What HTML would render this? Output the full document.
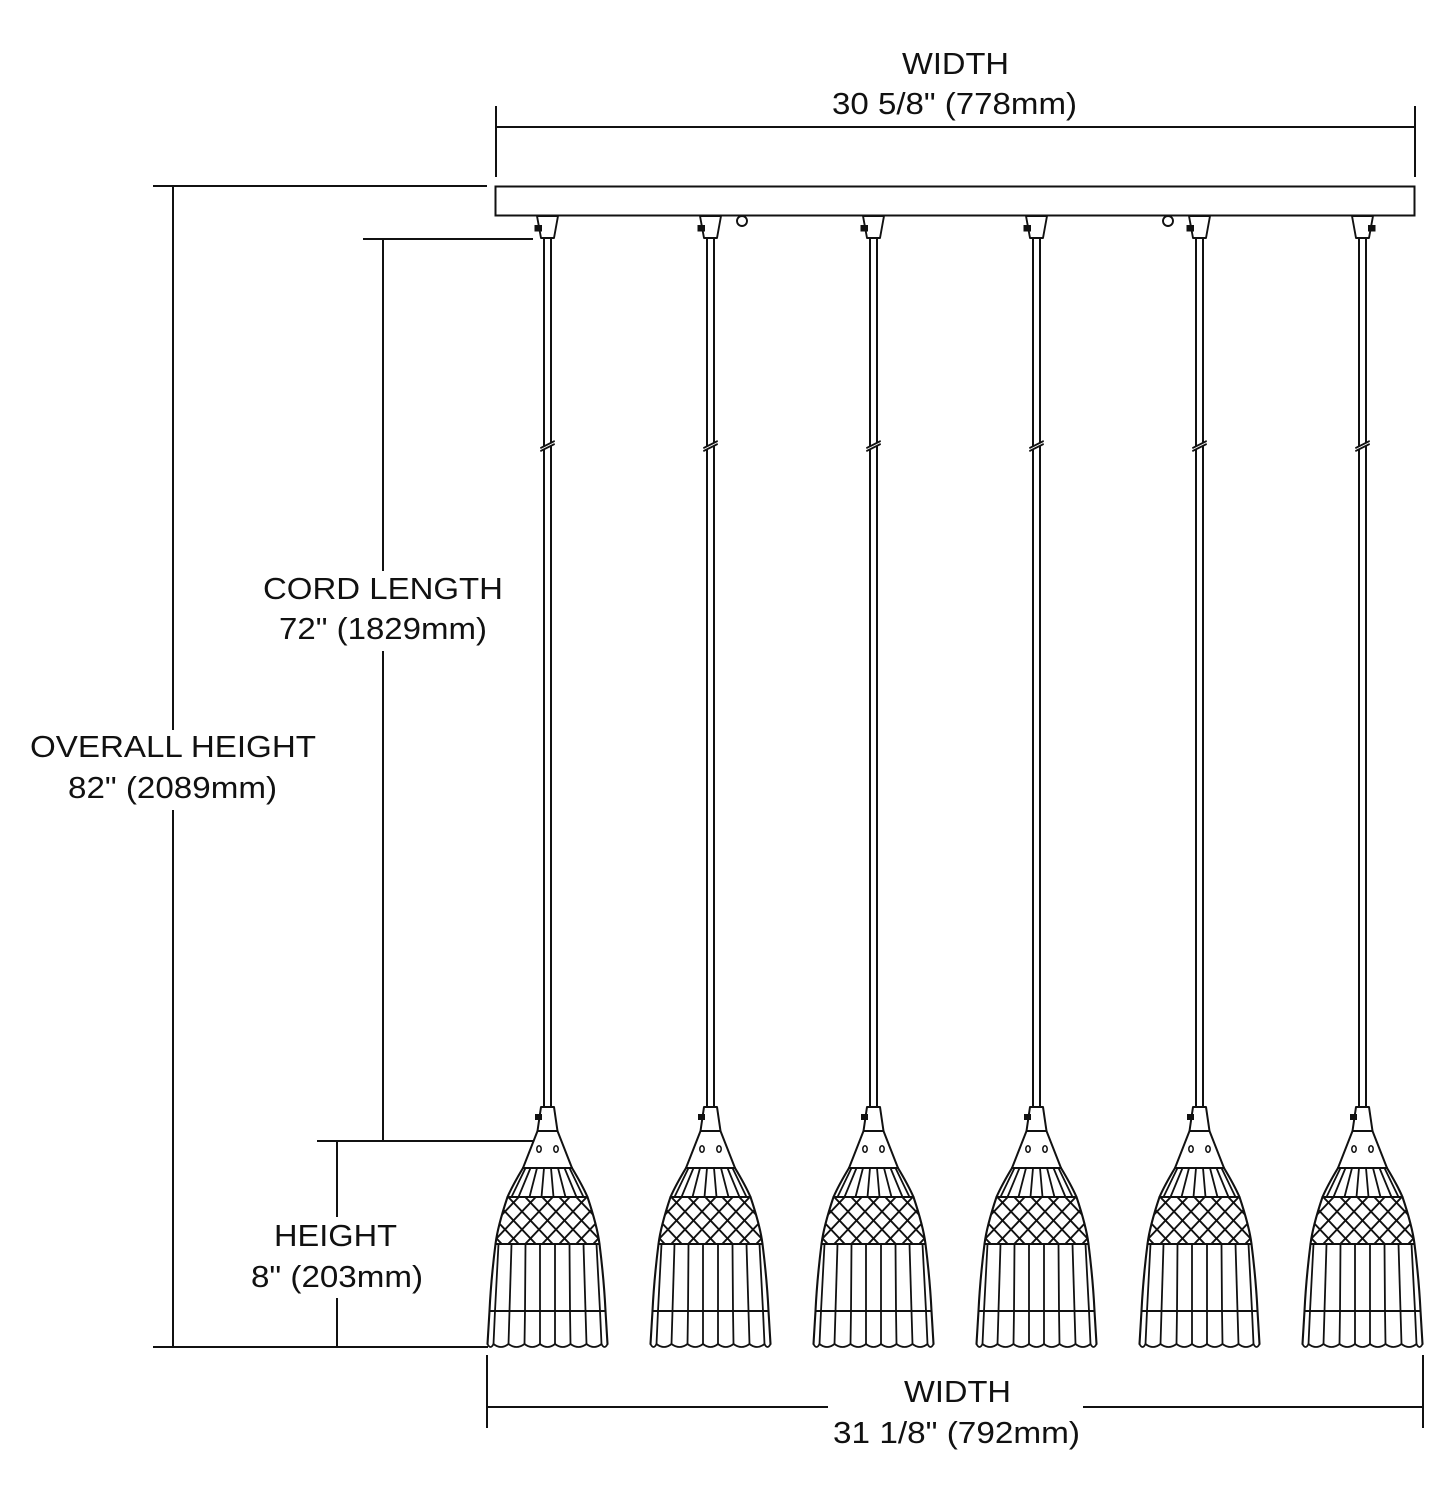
<!DOCTYPE html>
<html>
<head>
<meta charset="utf-8">
<style>
  html, body { margin: 0; padding: 0; background: #ffffff; }
  svg { display: block; }
  text { font-family: "Liberation Sans", Arial, sans-serif; font-size: 31px; fill: #111; }
</style>
</head>
<body>
<svg width="1455" height="1500" viewBox="0 0 1455 1500" xmlns="http://www.w3.org/2000/svg">
  <defs>
    <clipPath id="hatchClip">
      <path d="M -40,1197 L 40,1197 C 45,1212 50,1228 52,1244 L -52,1244 C -50,1228 -45,1212 -40,1197 Z"/>
    </clipPath>

    <g id="pend" fill="none" stroke="#111" stroke-linecap="round" stroke-linejoin="round">
      <line x1="-3.5" y1="238" x2="-3.5" y2="1107" stroke-width="2"/>
      <line x1="3.5" y1="238" x2="3.5" y2="1107" stroke-width="2"/>
      <polygon points="-6,447.5 6,441.5 6,444.5 -6,450.5" fill="#fff" stroke="none"/>
      <line x1="-6.5" y1="447.8" x2="6.5" y2="441.3" stroke-width="1.9"/>
      <line x1="-6.5" y1="450.8" x2="6.5" y2="444.3" stroke-width="1.9"/>

      <path d="M -6.5,1107 L 6.5,1107 L 10,1131 L -10,1131 Z" stroke-width="2" fill="#fff"/>
      <rect x="-12.5" y="1114" width="7" height="6" fill="#111" stroke="none"/>
      <line x1="-10" y1="1131" x2="-24.5" y2="1168" stroke-width="2"/>
      <line x1="10" y1="1131" x2="24.5" y2="1168" stroke-width="2"/>
      <ellipse cx="-8.5" cy="1149" rx="2.2" ry="3.2" stroke-width="1.5"/>
      <ellipse cx="8.5" cy="1149" rx="2.2" ry="3.2" stroke-width="1.5"/>

      <path d="M 24.5,1168 C 30.5,1178 36.5,1189 40,1197 C 45,1212 50,1228 52,1244 C 54.5,1264 57,1290 58,1311 L 60,1344" stroke-width="2.1"/>
      <path d="M -24.5,1168 C -30.5,1178 -36.5,1189 -40,1197 C -45,1212 -50,1228 -52,1244 C -54.5,1264 -57,1290 -58,1311 L -60,1344" stroke-width="2.1"/>

      <line x1="-24.5" y1="1168" x2="24.5" y2="1168" stroke-width="2"/>
      <line x1="-40" y1="1197" x2="40" y2="1197" stroke-width="2"/>
      <line x1="-52" y1="1244" x2="52" y2="1244" stroke-width="2"/>
      <line x1="-58" y1="1311" x2="58" y2="1311" stroke-width="2"/>

      <g stroke-width="1.8">
        <line x1="-3.5" y1="1168" x2="-6" y2="1197"/>
        <line x1="3.5" y1="1168" x2="6" y2="1197"/>
        <line x1="-10.5" y1="1168" x2="-18" y2="1197"/>
        <line x1="10.5" y1="1168" x2="18" y2="1197"/>
        <line x1="-17" y1="1168" x2="-29" y2="1197"/>
        <line x1="17" y1="1168" x2="29" y2="1197"/>
        <line x1="-22" y1="1168" x2="-36" y2="1197"/>
        <line x1="22" y1="1168" x2="36" y2="1197"/>
      </g>

      <g clip-path="url(#hatchClip)" stroke-width="1.9">
        <line x1="-124.3" y1="1197" x2="-79.7" y2="1244"/>
        <line x1="-107.3" y1="1197" x2="-62.7" y2="1244"/>
        <line x1="-90.3" y1="1197" x2="-45.7" y2="1244"/>
        <line x1="-73.3" y1="1197" x2="-28.7" y2="1244"/>
        <line x1="-56.3" y1="1197" x2="-11.7" y2="1244"/>
        <line x1="-39.3" y1="1197" x2="5.3" y2="1244"/>
        <line x1="-22.3" y1="1197" x2="22.3" y2="1244"/>
        <line x1="-5.3" y1="1197" x2="39.3" y2="1244"/>
        <line x1="11.7" y1="1197" x2="56.3" y2="1244"/>
        <line x1="28.7" y1="1197" x2="73.3" y2="1244"/>
        <line x1="45.7" y1="1197" x2="90.3" y2="1244"/>
        <line x1="62.7" y1="1197" x2="107.3" y2="1244"/>

        <line x1="124.3" y1="1197" x2="79.7" y2="1244"/>
        <line x1="107.3" y1="1197" x2="62.7" y2="1244"/>
        <line x1="90.3" y1="1197" x2="45.7" y2="1244"/>
        <line x1="73.3" y1="1197" x2="28.7" y2="1244"/>
        <line x1="56.3" y1="1197" x2="11.7" y2="1244"/>
        <line x1="39.3" y1="1197" x2="-5.3" y2="1244"/>
        <line x1="22.3" y1="1197" x2="-22.3" y2="1244"/>
        <line x1="5.3" y1="1197" x2="-39.3" y2="1244"/>
        <line x1="-11.7" y1="1197" x2="-56.3" y2="1244"/>
        <line x1="-28.7" y1="1197" x2="-73.3" y2="1244"/>
        <line x1="-45.7" y1="1197" x2="-90.3" y2="1244"/>
        <line x1="-62.7" y1="1197" x2="-107.3" y2="1244"/>
      </g>

      <g stroke-width="1.8">
        <line x1="-7.5" y1="1244" x2="-7.5" y2="1311"/>
        <line x1="7.5" y1="1244" x2="7.5" y2="1311"/>
        <line x1="-22" y1="1244" x2="-22.5" y2="1311"/>
        <line x1="22" y1="1244" x2="22.5" y2="1311"/>
        <line x1="-36" y1="1244" x2="-38" y2="1311"/>
        <line x1="36" y1="1244" x2="38" y2="1311"/>
        <line x1="-49" y1="1244" x2="-52.5" y2="1311"/>
        <line x1="49" y1="1244" x2="52.5" y2="1311"/>
      </g>
      <g stroke-width="1.8">
        <line x1="-7.5" y1="1311" x2="-7.5" y2="1344"/>
        <line x1="7.5" y1="1311" x2="7.5" y2="1344"/>
        <line x1="-22.5" y1="1311" x2="-23" y2="1344"/>
        <line x1="22.5" y1="1311" x2="23" y2="1344"/>
        <line x1="-38" y1="1311" x2="-39" y2="1344"/>
        <line x1="38" y1="1311" x2="39" y2="1344"/>
        <line x1="-52.5" y1="1311" x2="-54" y2="1344"/>
        <line x1="52.5" y1="1311" x2="54" y2="1344"/>
      </g>
      <path d="M -60,1344 Q -57,1350 -54,1344 Q -46.5,1350 -39,1344 Q -31,1350 -23,1344 Q -15.25,1350 -7.5,1344 Q 0,1350 7.5,1344 Q 15.25,1350 23,1344 Q 31,1350 39,1344 Q 46.5,1350 54,1344 Q 57,1350 60,1344" stroke-width="1.8"/>
    </g>

    <g id="connL" stroke="#111" fill="#fff" stroke-width="1.9" stroke-linejoin="round">
      <path d="M -10.5,216 L 10.5,216 L 6.5,238 L -6.5,238 Z"/>
      <rect x="-13" y="225" width="7.5" height="6.5" fill="#111" stroke="none"/>
    </g>
    <g id="connR" stroke="#111" fill="#fff" stroke-width="1.9" stroke-linejoin="round">
      <path d="M -10.5,216 L 10.5,216 L 6.5,238 L -6.5,238 Z"/>
      <rect x="5.5" y="225" width="7.5" height="6.5" fill="#111" stroke="none"/>
    </g>
  </defs>

  <rect x="0" y="0" width="1455" height="1500" fill="#fff"/>

  <g stroke="#111" stroke-width="2" fill="none" stroke-linecap="butt">
    <line x1="496" y1="106" x2="496" y2="177"/>
    <line x1="1415" y1="106" x2="1415" y2="177"/>
    <line x1="496" y1="127" x2="1415" y2="127"/>

    <line x1="153" y1="186" x2="487" y2="186"/>
    <line x1="153" y1="1347" x2="488" y2="1347"/>
    <line x1="173" y1="186" x2="173" y2="730"/>
    <line x1="173" y1="810" x2="173" y2="1347"/>

    <line x1="363" y1="239" x2="533" y2="239"/>
    <line x1="383" y1="239" x2="383" y2="571"/>
    <line x1="383" y1="651" x2="383" y2="1141"/>

    <line x1="317" y1="1141" x2="533" y2="1141"/>
    <line x1="337" y1="1141" x2="337" y2="1217"/>
    <line x1="337" y1="1298" x2="337" y2="1347"/>

    <line x1="487" y1="1355" x2="487" y2="1428"/>
    <line x1="1423" y1="1355" x2="1423" y2="1428"/>
    <line x1="487" y1="1407" x2="828" y2="1407"/>
    <line x1="1083" y1="1407" x2="1423" y2="1407"/>
  </g>

  <rect x="495.5" y="186.5" width="919" height="29" fill="#fff" stroke="#111" stroke-width="2"/>
  <circle cx="742" cy="221" r="5" fill="#fff" stroke="#111" stroke-width="1.9"/>
  <circle cx="1168" cy="221" r="5" fill="#fff" stroke="#111" stroke-width="1.9"/>

  <use href="#pend" x="547.5" y="0"/>
  <use href="#pend" x="710.5" y="0"/>
  <use href="#pend" x="873.5" y="0"/>
  <use href="#pend" x="1036.5" y="0"/>
  <use href="#pend" x="1199.5" y="0"/>
  <use href="#pend" x="1362.5" y="0"/>

  <use href="#connL" x="547.5" y="0"/>
  <use href="#connL" x="710.5" y="0"/>
  <use href="#connL" x="873.5" y="0"/>
  <use href="#connL" x="1036.5" y="0"/>
  <use href="#connL" x="1199.5" y="0"/>
  <use href="#connR" x="1362.5" y="0"/>

  <text x="955.5" y="74" text-anchor="middle" textLength="107" lengthAdjust="spacingAndGlyphs">WIDTH</text>
  <text x="954.5" y="114" text-anchor="middle" textLength="245" lengthAdjust="spacingAndGlyphs">30 5/8" (778mm)</text>

  <text x="383" y="599" text-anchor="middle" textLength="240" lengthAdjust="spacingAndGlyphs">CORD LENGTH</text>
  <text x="383" y="639" text-anchor="middle" textLength="208" lengthAdjust="spacingAndGlyphs">72" (1829mm)</text>

  <text x="173" y="757" text-anchor="middle" textLength="286" lengthAdjust="spacingAndGlyphs">OVERALL HEIGHT</text>
  <text x="172.5" y="798" text-anchor="middle" textLength="209" lengthAdjust="spacingAndGlyphs">82" (2089mm)</text>

  <text x="335.5" y="1246" text-anchor="middle" textLength="123" lengthAdjust="spacingAndGlyphs">HEIGHT</text>
  <text x="337" y="1287" text-anchor="middle" textLength="172" lengthAdjust="spacingAndGlyphs">8" (203mm)</text>

  <text x="957.5" y="1402" text-anchor="middle" textLength="107" lengthAdjust="spacingAndGlyphs">WIDTH</text>
  <text x="956.5" y="1443" text-anchor="middle" textLength="247" lengthAdjust="spacingAndGlyphs">31 1/8" (792mm)</text>
</svg>
</body>
</html>
